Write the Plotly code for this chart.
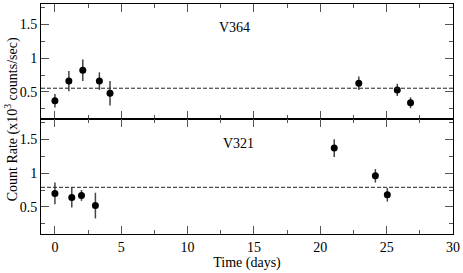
import plotly.graph_objects as go
from plotly.subplots import make_subplots

# V364 (top panel)
v364_t = [0.0, 1.05, 2.1, 3.35, 4.15, 22.9, 25.8, 26.8]
v364_rate = [0.37, 0.66, 0.82, 0.66, 0.48, 0.63, 0.53, 0.34]
v364_err = [0.10, 0.15, 0.16, 0.13, 0.18, 0.10, 0.09, 0.08]
v364_mean = 0.555

# V321 (bottom panel)
v321_t = [0.0, 1.27, 2.0, 3.05, 21.05, 24.15, 25.05]
v321_rate = [0.70, 0.64, 0.67, 0.52, 1.37, 0.96, 0.68]
v321_err = [0.16, 0.15, 0.08, 0.19, 0.13, 0.10, 0.10]
v321_mean = 0.79

x_range = [-1.05, 30]
y_range = [0.1, 1.8]
x_ticks = [0, 5, 10, 15, 20, 25, 30]
y_ticks = [0.5, 1, 1.5]
y_ticklabels = ["0.5", "1", "1.5"]

FONT = "Liberation Serif"
FS = 14

fig = make_subplots(rows=2, cols=1, shared_xaxes=True, vertical_spacing=0)

def add_panel(row, t, rate, err, mean):
    fig.add_trace(go.Scatter(
        x=t, y=rate, mode="markers",
        marker=dict(color="black", size=7, symbol="circle"),
        error_y=dict(type="data", array=err, visible=True, color="#444",
                     thickness=1.5, width=0),
        showlegend=False), row=row, col=1)
    fig.add_trace(go.Scatter(
        x=x_range, y=[mean, mean], mode="lines",
        line=dict(color="#222", width=1, dash="4px,2px"),
        showlegend=False, hoverinfo="skip"), row=row, col=1)

add_panel(1, v364_t, v364_rate, v364_err, v364_mean)
add_panel(2, v321_t, v321_rate, v321_err, v321_mean)

axis_common = dict(
    showline=True, linecolor="black", linewidth=1, mirror="ticks",
    ticks="inside", ticklen=8, tickwidth=1.2, tickcolor="#555",
    showgrid=False, zeroline=False,
    tickfont=dict(family=FONT, size=FS, color="black"),
    ticklabeloverflow="allow",
)

for r in (1, 2):
    fig.update_xaxes(range=x_range, tickvals=x_ticks,
                     minor=dict(dtick=2.5, tick0=0, ticks="inside", ticklen=4,
                                tickwidth=1.2, tickcolor="#555", showgrid=False),
                     showticklabels=(r == 2), row=r, col=1, **axis_common)
    fig.update_yaxes(range=y_range, tickvals=y_ticks, ticktext=y_ticklabels,
                     minor=dict(dtick=0.25, tick0=0, ticks="inside", ticklen=4,
                                tickwidth=1.2, tickcolor="#555", showgrid=False),
                     row=r, col=1, **axis_common)

fig.update_xaxes(title=dict(text="Time (days)", standoff=0,
                            font=dict(family=FONT, size=FS, color="black")),
                 row=2, col=1)

fig.add_annotation(text="V364", x=13.5, y=1.45, xref="x", yref="y",
                   showarrow=False, font=dict(family=FONT, size=FS, color="black"))
fig.add_annotation(text="V321", x=13.8, y=1.44, xref="x2", yref="y2",
                   showarrow=False, font=dict(family=FONT, size=FS, color="black"))
fig.add_annotation(text="Count Rate (x10<sup>3</sup> counts/sec)", textangle=-90,
                   x=-0.072, y=0.5, xref="paper", yref="paper",
                   xanchor="center", yanchor="middle", showarrow=False,
                   font=dict(family=FONT, size=FS, color="black"))

fig.update_layout(
    width=463, height=273,
    margin=dict(l=41, r=6, t=3, b=39),
    plot_bgcolor="white", paper_bgcolor="white",
)

fig.write_html("out.html", config={"displayModeBar": False},
               post_script="document.body.style.margin='0';document.body.style.padding='0';")
